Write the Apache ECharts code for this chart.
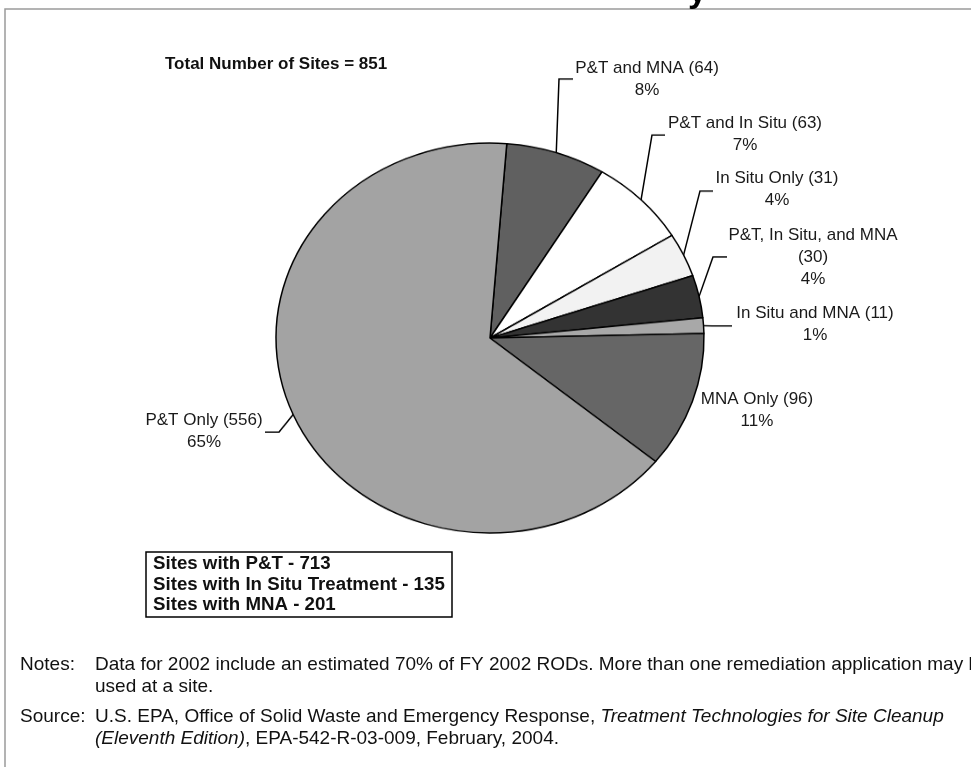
<!DOCTYPE html>
<html>
<head>
<meta charset="UTF-8">
<title>Remedies at Sites</title>
<script src="https://cdn.jsdelivr.net/npm/echarts@6/dist/echarts.min.js"></script>
<style type="text/css">
	html, body { margin: 0; padding: 0; background: #fff; }
	#wrap { position: relative; width: 971px; height: 771px; overflow: hidden; }
	#pie, #text { position: absolute; left: 0; top: 0; width: 971px; height: 771px; }
	/* the pie in the source is a flattened ellipse */
	#pie { transform-origin: 490px 338px; transform: scaleY(0.9112); }
</style>
</head>
<body>
<div id="wrap">
	<div id="pie"></div>
	<div id="text"></div>
</div>
<script type="text/javascript">
var categories = ['P&T and MNA', 'P&T and In Situ', 'In Situ Only', 'P&T, In Situ, and MNA', 'In Situ and MNA', 'MNA Only', 'P&T Only'];
var siteCounts = [64, 63, 31, 30, 11, 96, 556];
var sliceColors = ['#606060', '#ffffff', '#f2f2f2', '#333333', '#a8a8a8', '#666666', '#a3a3a3'];
var boxTags = ['P&T', 'In Situ', 'MNA'];
var boxNames = ['P&T', 'In Situ Treatment', 'MNA'];

var CX = 490, CY = 338, RX = 214, RY = 195;
var SY = RY / RX;
// label centres and label line knees [kneeX, y, endX], screen px
var labelAt = [[647, 79], [745, 134], [777, 189], [813, 257], [815, 324], [757, 410], [204, 431]];
var kneeAt = [[559, 79, 573], [652, 135, 665], [700, 191, 713], [713, 257, 727], [712, 326, 732], null, [279, 432, 265]];

var FONT = 'Arial, "Liberation Sans", sans-serif';

function toPieY(y) {
	return CY + (y - CY) / SY;
}

function pieData(forText) {
	var arr = [];
	for(var i = 0; i < categories.length; i++) {
		arr.push({
			name: categories[i],
			value: siteCounts[i],
			itemStyle: forText ? { color: 'rgba(0,0,0,0)', borderWidth: 0 } : { color: sliceColors[i] },
			labelLine: { show: !forText && kneeAt[i] != null }
		});
	}
	return arr;
}

function labelText(p) {
	var s = p.name.length > 18 ? p.name + '\n(' + p.value + ')' : p.name + ' (' + p.value + ')';
	return s + '\n' + Math.round(p.percent) + '%';
}

var total = 0;
for(var i = 0; i < siteCounts.length; i++) total += siteCounts[i];

function sitesWith(tag) {
	var n = 0;
	for(var i = 0; i < categories.length; i++) {
		if(categories[i].indexOf(tag) >= 0) n += siteCounts[i];
	}
	return n;
}
var boxLines = [];
for(var j = 0; j < boxTags.length; j++) {
	boxLines.push('Sites with ' + boxNames[j] + ' - ' + sitesWith(boxTags[j]));
}

// pie + label lines (scaled layer)
var pieChart = echarts.init(document.getElementById('pie'));
pieChart.setOption({
	animation: false,
	series: [{
		type: 'pie',
		silent: true,
		center: [CX, CY],
		radius: RX,
		startAngle: 85.5,
		clockwise: true,
		avoidLabelOverlap: false,
		data: pieData(false),
		itemStyle: { borderColor: '#000', borderWidth: 1.5 },
		label: { show: true, formatter: labelText, color: 'rgba(0,0,0,0)', fontSize: 17, fontFamily: FONT },
		labelLine: { show: true, length: 10, length2: 10, lineStyle: { color: '#000', width: 1.5 } },
		labelLayout: function(p) {
			var k = kneeAt[p.dataIndex];
			var l = labelAt[p.dataIndex];
			var out = { x: l[0], y: toPieY(l[1]), align: 'center', verticalAlign: 'middle' };
			if(k && p.labelLinePoints) {
				out.labelLinePoints = [p.labelLinePoints[0], [k[0], toPieY(k[1])], [k[2], toPieY(k[1])]];
			}
			return out;
		}
	}]
});

// labels and texts (unscaled layer)
var textChart = echarts.init(document.getElementById('text'));
textChart.setOption({
	animation: false,
	series: [{
		type: 'pie',
		silent: true,
		center: [CX, CY],
		radius: RX,
		startAngle: 85.5,
		clockwise: true,
		avoidLabelOverlap: false,
		data: pieData(true),
		label: { show: true, formatter: labelText, color: '#1a1a1a', fontSize: 17, lineHeight: 22, fontFamily: FONT },
		labelLine: { show: false },
		labelLayout: function(p) {
			var l = labelAt[p.dataIndex];
			return { x: l[0], y: l[1], align: 'center', verticalAlign: 'middle' };
		}
	}],
	graphic: [{
		type: 'polyline',
		silent: true,
		shape: { points: [[5, 767], [5, 9], [980, 9]] },
		style: { stroke: '#9a9a9a', lineWidth: 1.5, fill: null }
	}, {
		type: 'text',
		x: 688, y: -7,
		style: { text: 'y', font: 'bold 34px ' + FONT, fill: '#000', verticalAlign: 'middle', textVerticalAlign: 'middle' }
	}, {
		type: 'text',
		x: 165, y: 64,
		style: { text: 'Total Number of Sites = ' + total, font: 'bold 17px ' + FONT, fill: '#111', verticalAlign: 'middle', textVerticalAlign: 'middle' }
	}, {
		type: 'rect',
		shape: { x: 146, y: 552, width: 306, height: 65 },
		style: { fill: '#fff', stroke: '#000', lineWidth: 1.5 }
	}, {
		type: 'text',
		x: 153, y: 554,
		style: { text: boxLines.join('\n'), font: 'bold 18.7px ' + FONT, lineHeight: 20.5, fill: '#111', verticalAlign: 'top', textVerticalAlign: 'top' }
	}, {
		type: 'text',
		x: 20, y: 665,
		style: { text: 'Notes:', font: '19px ' + FONT, fill: '#111', verticalAlign: 'middle', textVerticalAlign: 'middle' }
	}, {
		type: 'text',
		x: 95, y: 654,
		style: { text: 'Data for 2002 include an estimated 70% of FY 2002 RODs. More than one remediation application may be\nused at a site.', font: '19px ' + FONT, lineHeight: 22, fill: '#111', verticalAlign: 'top', textVerticalAlign: 'top' }
	}, {
		type: 'text',
		x: 20, y: 717,
		style: { text: 'Source:', font: '19px ' + FONT, fill: '#111', verticalAlign: 'middle', textVerticalAlign: 'middle' }
	}, {
		type: 'text',
		x: 95, y: 706,
		style: {
			text: '{n|U.S. EPA, Office of Solid Waste and Emergency Response, }{i|Treatment Technologies for Site Cleanup}\n{i|(Eleventh Edition)}{n|, EPA-542-R-03-009, February, 2004.}',
			verticalAlign: 'top', textVerticalAlign: 'top',
			rich: {
				n: { font: '19px ' + FONT, fill: '#111', color: '#111', lineHeight: 22 },
				i: { font: 'italic 19px ' + FONT, fill: '#111', color: '#111', lineHeight: 22 }
			}
		}
	}]
});
</script>
</body>
</html>
